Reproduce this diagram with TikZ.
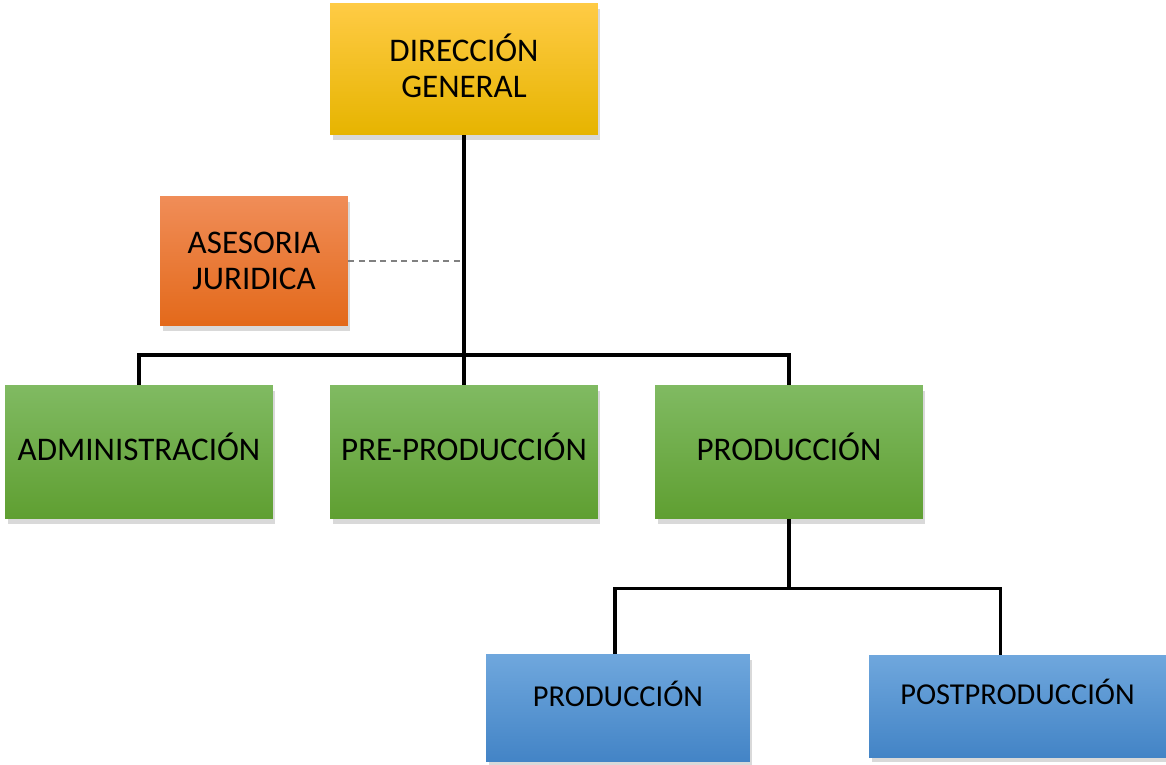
\documentclass[tikz,border=0pt]{standalone}
\usepackage{fontspec}
\setmainfont{Carlito}
\usetikzlibrary{calc,shadows}

\definecolor{ytop}{HTML}{FFCB45}
\definecolor{ybot}{HTML}{E6B400}
\definecolor{otop}{HTML}{F08D58}
\definecolor{obot}{HTML}{E3691A}
\definecolor{gtop}{HTML}{80BA62}
\definecolor{gbot}{HTML}{5F9F31}
\definecolor{btop}{HTML}{6FA7DD}
\definecolor{bbot}{HTML}{4384C6}

\begin{document}
\begin{tikzpicture}[x=0.02cm,y=-0.02cm,
  box/.style={rectangle,inner sep=0pt,align=center,
    drop shadow={shadow xshift=0.5mm,shadow yshift=-1.1mm,opacity=0.3},
    font=\fontsize{18.8}{20.6}\selectfont},
  conn/.style={line width=1.9pt,black},
  dashconn/.style={line width=1.5pt,gray,dash pattern=on 3.5pt off 2.5pt}]
\useasboundingbox (0,0) rectangle (1166,764);

\node[box,minimum width=5.36cm,minimum height=2.64cm,text depth=0.14cm,top color=ytop,bottom color=ybot]
  (dirgen) at (464,69) {DIRECCIÓN\\GENERAL};
\node[box,minimum width=3.76cm,minimum height=2.6cm,top color=otop,bottom color=obot]
  (asesor) at (254,261) {ASESORIA\\JURIDICA};

\node[box,minimum width=5.36cm,minimum height=2.68cm,text depth=0.2cm,top color=gtop,bottom color=gbot]
  (admin) at (139,452) {ADMINISTRACIÓN};
\node[box,minimum width=5.36cm,minimum height=2.68cm,text depth=0.2cm,top color=gtop,bottom color=gbot]
  (pre) at (464,452) {PRE-PRODUCCIÓN};
\node[box,minimum width=5.36cm,minimum height=2.68cm,text depth=0.2cm,top color=gtop,bottom color=gbot]
  (prod) at (789,452) {PRODUCCIÓN};

\node[box,minimum width=5.28cm,minimum height=2.14cm,text depth=0.56cm,top color=btop,bottom color=bbot,
  font=\fontsize{17.3}{19}\selectfont] (subprod) at (618,708) {PRODUCCIÓN};
\node[box,minimum width=5.94cm,minimum height=2.04cm,text depth=0.56cm,top color=btop,bottom color=bbot,
  font=\fontsize{17.3}{19}\selectfont] (post) at (1017.5,706) {POSTPRODUCCIÓN};

% lines
\coordinate (bus) at (464,355);
\coordinate (subbus) at ($(prod.south)+(0,69)$);
\draw[conn] (dirgen.south) -- (pre.north);
\draw[conn] (admin.north) |- (bus) -| (prod.north);
\draw[conn] (prod.south) -- (subbus);
\draw[conn] ($(subprod.north)-(3,0)$) |- (subbus) -| ($(post.north)-(17,0)$);
\draw[dashconn] (asesor.east) -- (asesor.east -| dirgen.south);

\end{tikzpicture}
\end{document}
